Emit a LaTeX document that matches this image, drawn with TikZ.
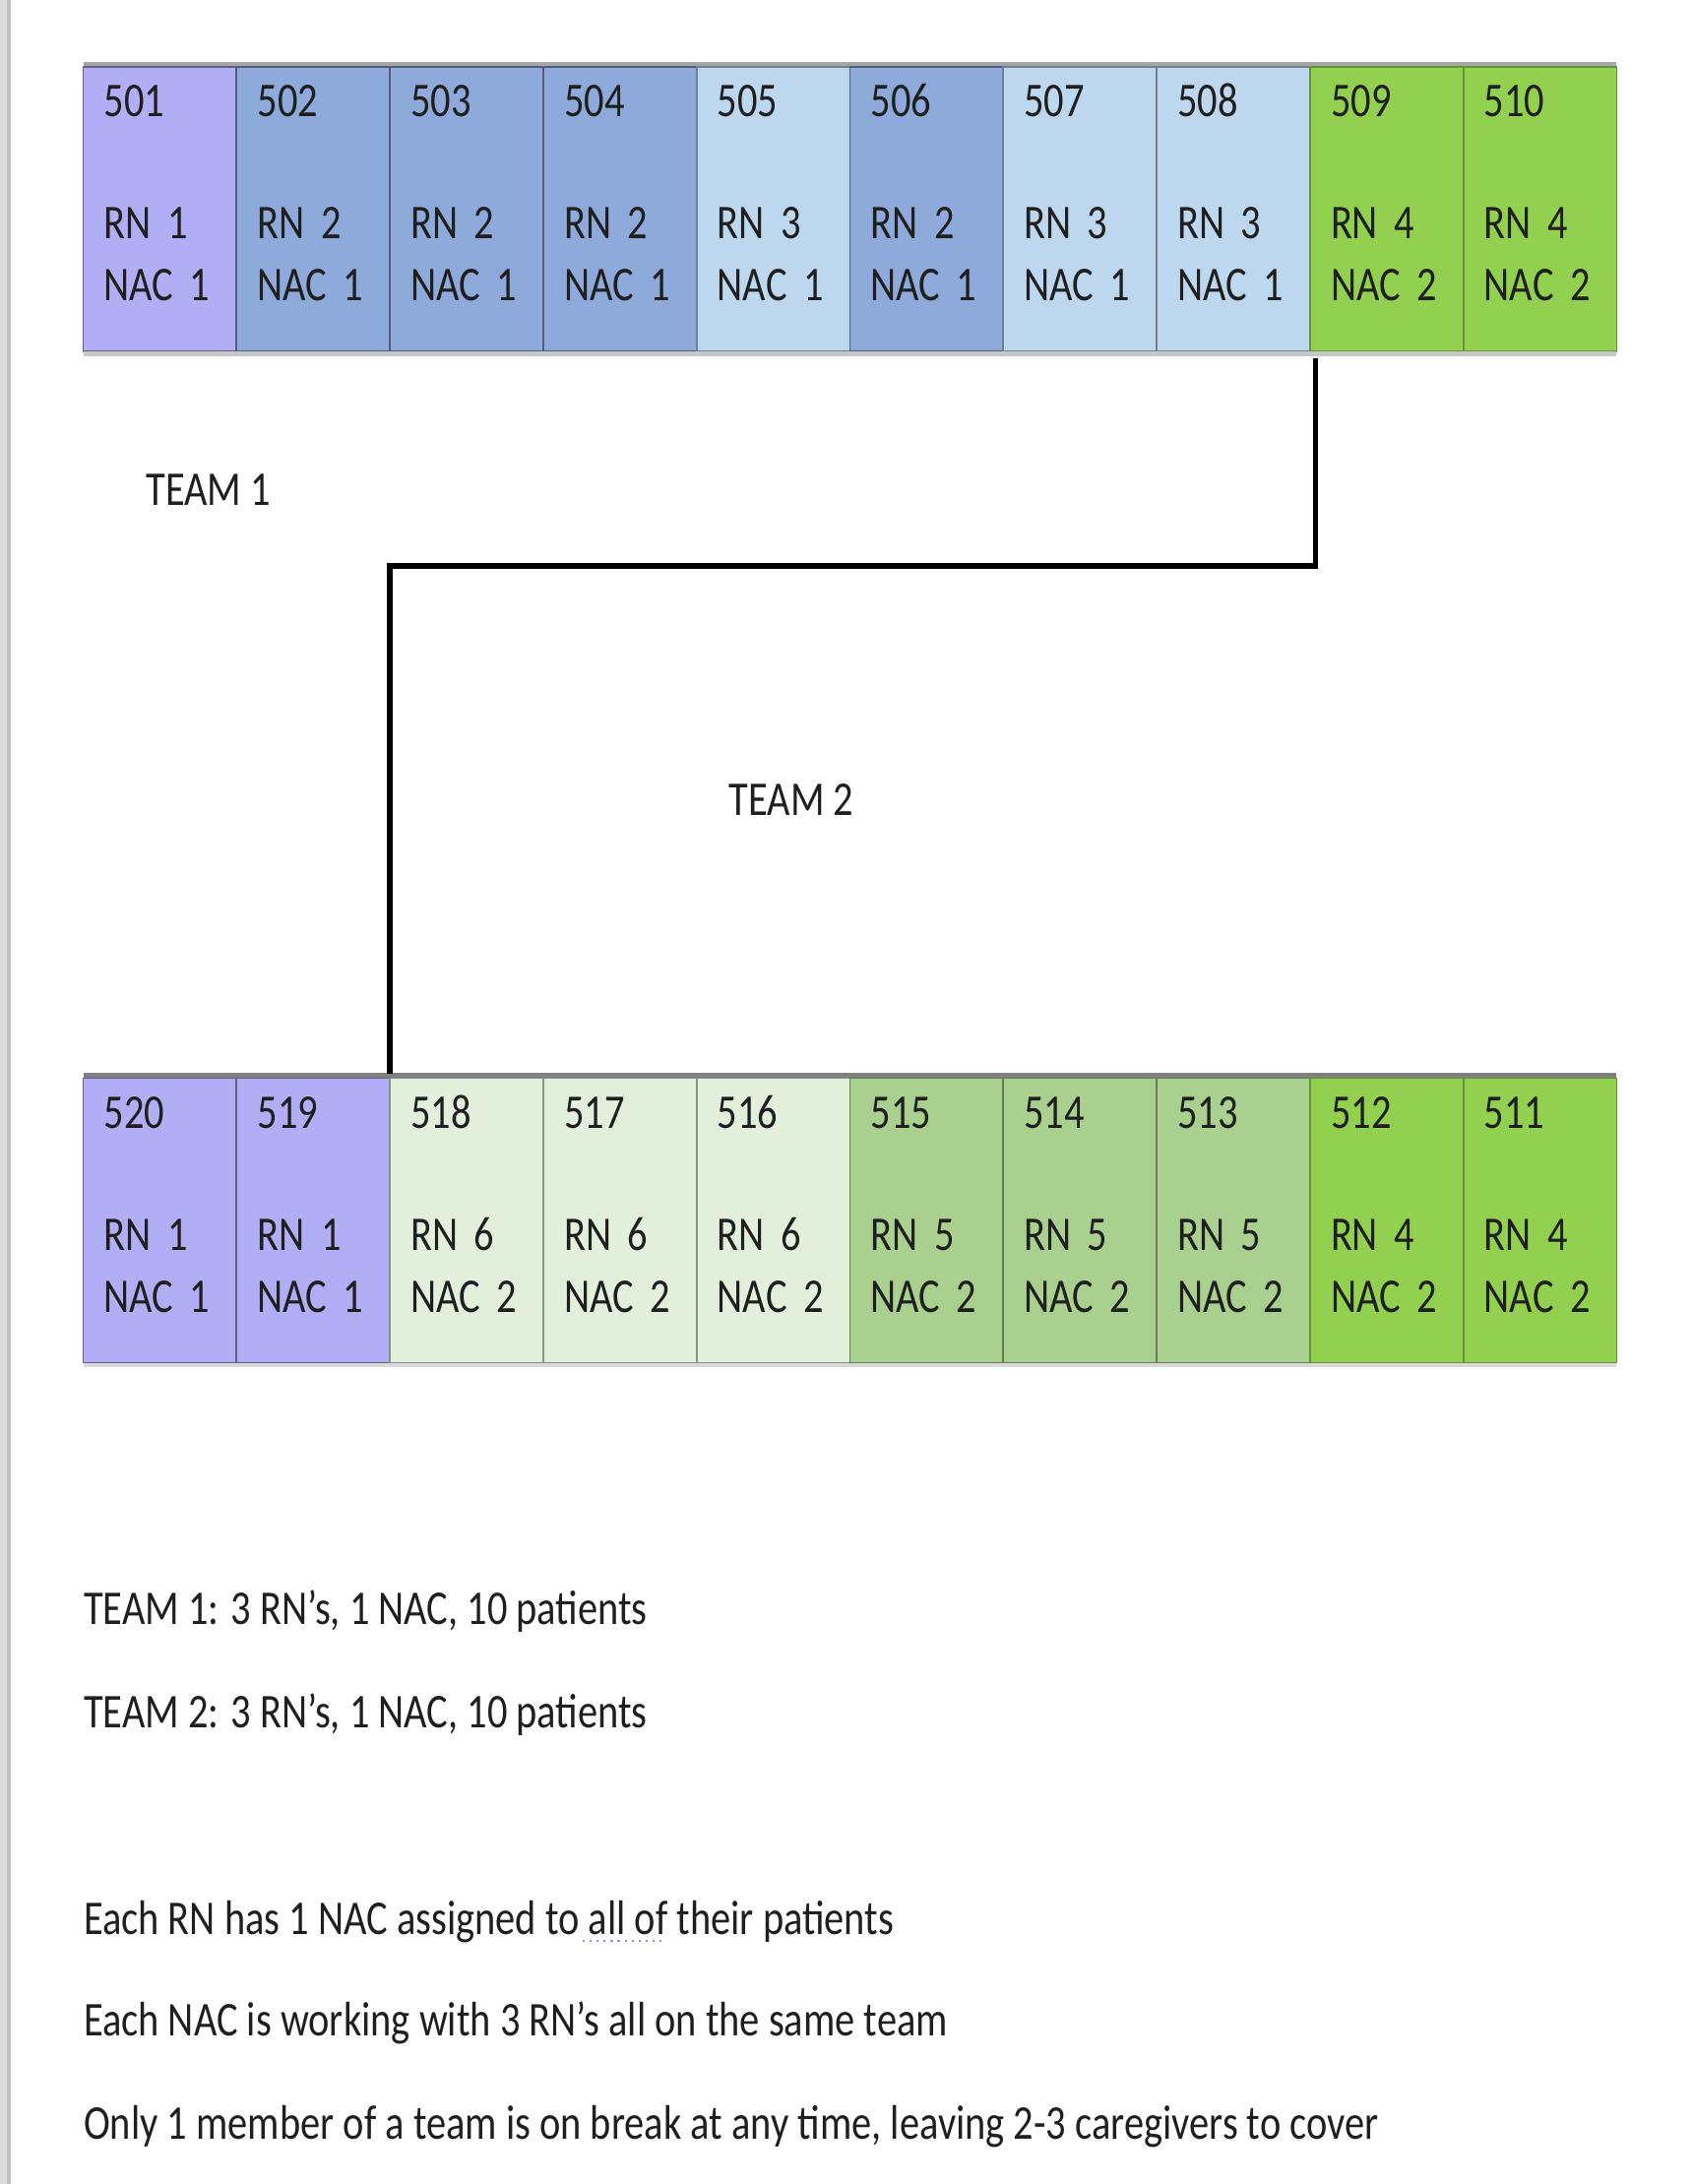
\documentclass[tikz,border=0pt]{standalone}
\usepackage{fontspec}
\setmainfont{Carlito}[FakeStretch=0.82]
\usetikzlibrary{positioning}

\definecolor{rnlav}{RGB}{177,174,245}
\definecolor{rnblue}{RGB}{142,170,219}
\definecolor{rnsky}{RGB}{189,215,238}
\definecolor{rngreen}{RGB}{146,208,80}
\definecolor{rnmoss}{RGB}{169,208,142}
\definecolor{rnpale}{RGB}{226,239,218}
\definecolor{squiggle}{RGB}{150,140,230}

\begin{document}
\begin{tikzpicture}[
    x=0.2mm, y=-0.2mm,
    every node/.style={font=\fontsize{19.9pt}{9mm}\selectfont, text=black!88},
    room/.style={rectangle, draw, line width=0.25mm, inner xsep=3mm, inner ysep=0pt, outer sep=0pt,
        text width=16.1mm, text height=7.2mm, text depth=33.8mm, align=left},
    rn1/.style={room, fill=rnlav, draw=rnlav!55!black},
    rn2/.style={room, fill=rnblue, draw=rnblue!55!black},
    rn3/.style={room, fill=rnsky, draw=rnsky!60!black},
    rn4/.style={room, fill=rngreen, draw=rngreen!70!black},
    rn5/.style={room, fill=rnmoss, draw=rnmoss!60!black},
    rn6/.style={room, fill=rnpale, draw=rnpale!60!black},
    note/.style={anchor=base west, inner sep=0pt},
    link/.style={draw=black, line width=0.8mm, line join=miter}
]
\useasboundingbox (0,0) rectangle (1220,1574);
\fill [black!14] (0,0) rectangle (5,1574);
\fill [black!24] (5,0) rectangle (8,1574);

% top row 501-510
\node (c501) [rn1, anchor=north west] at (60,48) {501\\[8.6mm]RN 1\\NAC 1};
\node (c502) [rn2, right=0pt of c501] {502\\[8.6mm]RN 2\\NAC 1};
\node (c503) [rn2, right=0pt of c502] {503\\[8.6mm]RN 2\\NAC 1};
\node (c504) [rn2, right=0pt of c503] {504\\[8.6mm]RN 2\\NAC 1};
\node (c505) [rn3, right=0pt of c504] {505\\[8.6mm]RN 3\\NAC 1};
\node (c506) [rn2, right=0pt of c505] {506\\[8.6mm]RN 2\\NAC 1};
\node (c507) [rn3, right=0pt of c506] {507\\[8.6mm]RN 3\\NAC 1};
\node (c508) [rn3, right=0pt of c507] {508\\[8.6mm]RN 3\\NAC 1};
\node (c509) [rn4, right=0pt of c508] {509\\[8.6mm]RN 4\\NAC 2};
\node (c510) [rn4, right=0pt of c509] {510\\[8.6mm]RN 4\\NAC 2};
\draw [black!35, line width=0.6mm] ([yshift=0.4mm]c501.north west) -- ([yshift=0.4mm]c510.north east);
\draw [black!22, line width=0.6mm] ([yshift=-0.4mm]c501.south west) -- ([yshift=-0.4mm]c510.south east);

% bottom row 520-511
\node (c520) [rn1, anchor=north west] at (60,777) {520\\[8.6mm]RN 1\\NAC 1};
\node (c519) [rn1, right=0pt of c520] {519\\[8.6mm]RN 1\\NAC 1};
\node (c518) [rn6, right=0pt of c519] {518\\[8.6mm]RN 6\\NAC 2};
\node (c517) [rn6, right=0pt of c518] {517\\[8.6mm]RN 6\\NAC 2};
\node (c516) [rn6, right=0pt of c517] {516\\[8.6mm]RN 6\\NAC 2};
\node (c515) [rn5, right=0pt of c516] {515\\[8.6mm]RN 5\\NAC 2};
\node (c514) [rn5, right=0pt of c515] {514\\[8.6mm]RN 5\\NAC 2};
\node (c513) [rn5, right=0pt of c514] {513\\[8.6mm]RN 5\\NAC 2};
\node (c512) [rn4, right=0pt of c513] {512\\[8.6mm]RN 4\\NAC 2};
\node (c511) [rn4, right=0pt of c512] {511\\[8.6mm]RN 4\\NAC 2};
\draw [black!50, line width=0.6mm] ([yshift=0.4mm]c520.north west) -- ([yshift=0.4mm]c511.north east);
\draw [black!15, line width=0.6mm] ([yshift=-0.4mm]c520.south west) -- ([yshift=-0.4mm]c511.south east);

% team boundary
\coordinate (bend) at (0,408);
\draw [link] ([xshift=0.8mm, yshift=-1mm]c509.south west) -- ([xshift=0.8mm]c509.south west |- bend)
    -- (c518.north west |- bend) -- ([yshift=0.6mm]c518.north west);

\node (team1) [note] at (105,364) {TEAM 1};
\node (team2) [note] at (525,588) {TEAM 2};

% notes
\node (note1) [note] at (60,1171) {TEAM 1: 3 RN’s, 1 NAC, 10 patients};
\node (note2) [note] at (60,1245) {TEAM 2: 3 RN’s, 1 NAC, 10 patients};
\node (note3) [note] at (60,1394) {Each RN has 1 NAC assigned to all of their patients};
\node (note4) [note] at (60,1467) {Each NAC is working with 3 RN’s all on the same team};
\node (note5) [note] at (60,1542) {Only 1 member of a team is on break at any time, leaving 2-3 caregivers to cover};
\draw [squiggle, dotted, line width=0.3mm] ([xshift=72mm, yshift=-1mm]note3.base west) -- ++(12mm,0);
\end{tikzpicture}
\end{document}
